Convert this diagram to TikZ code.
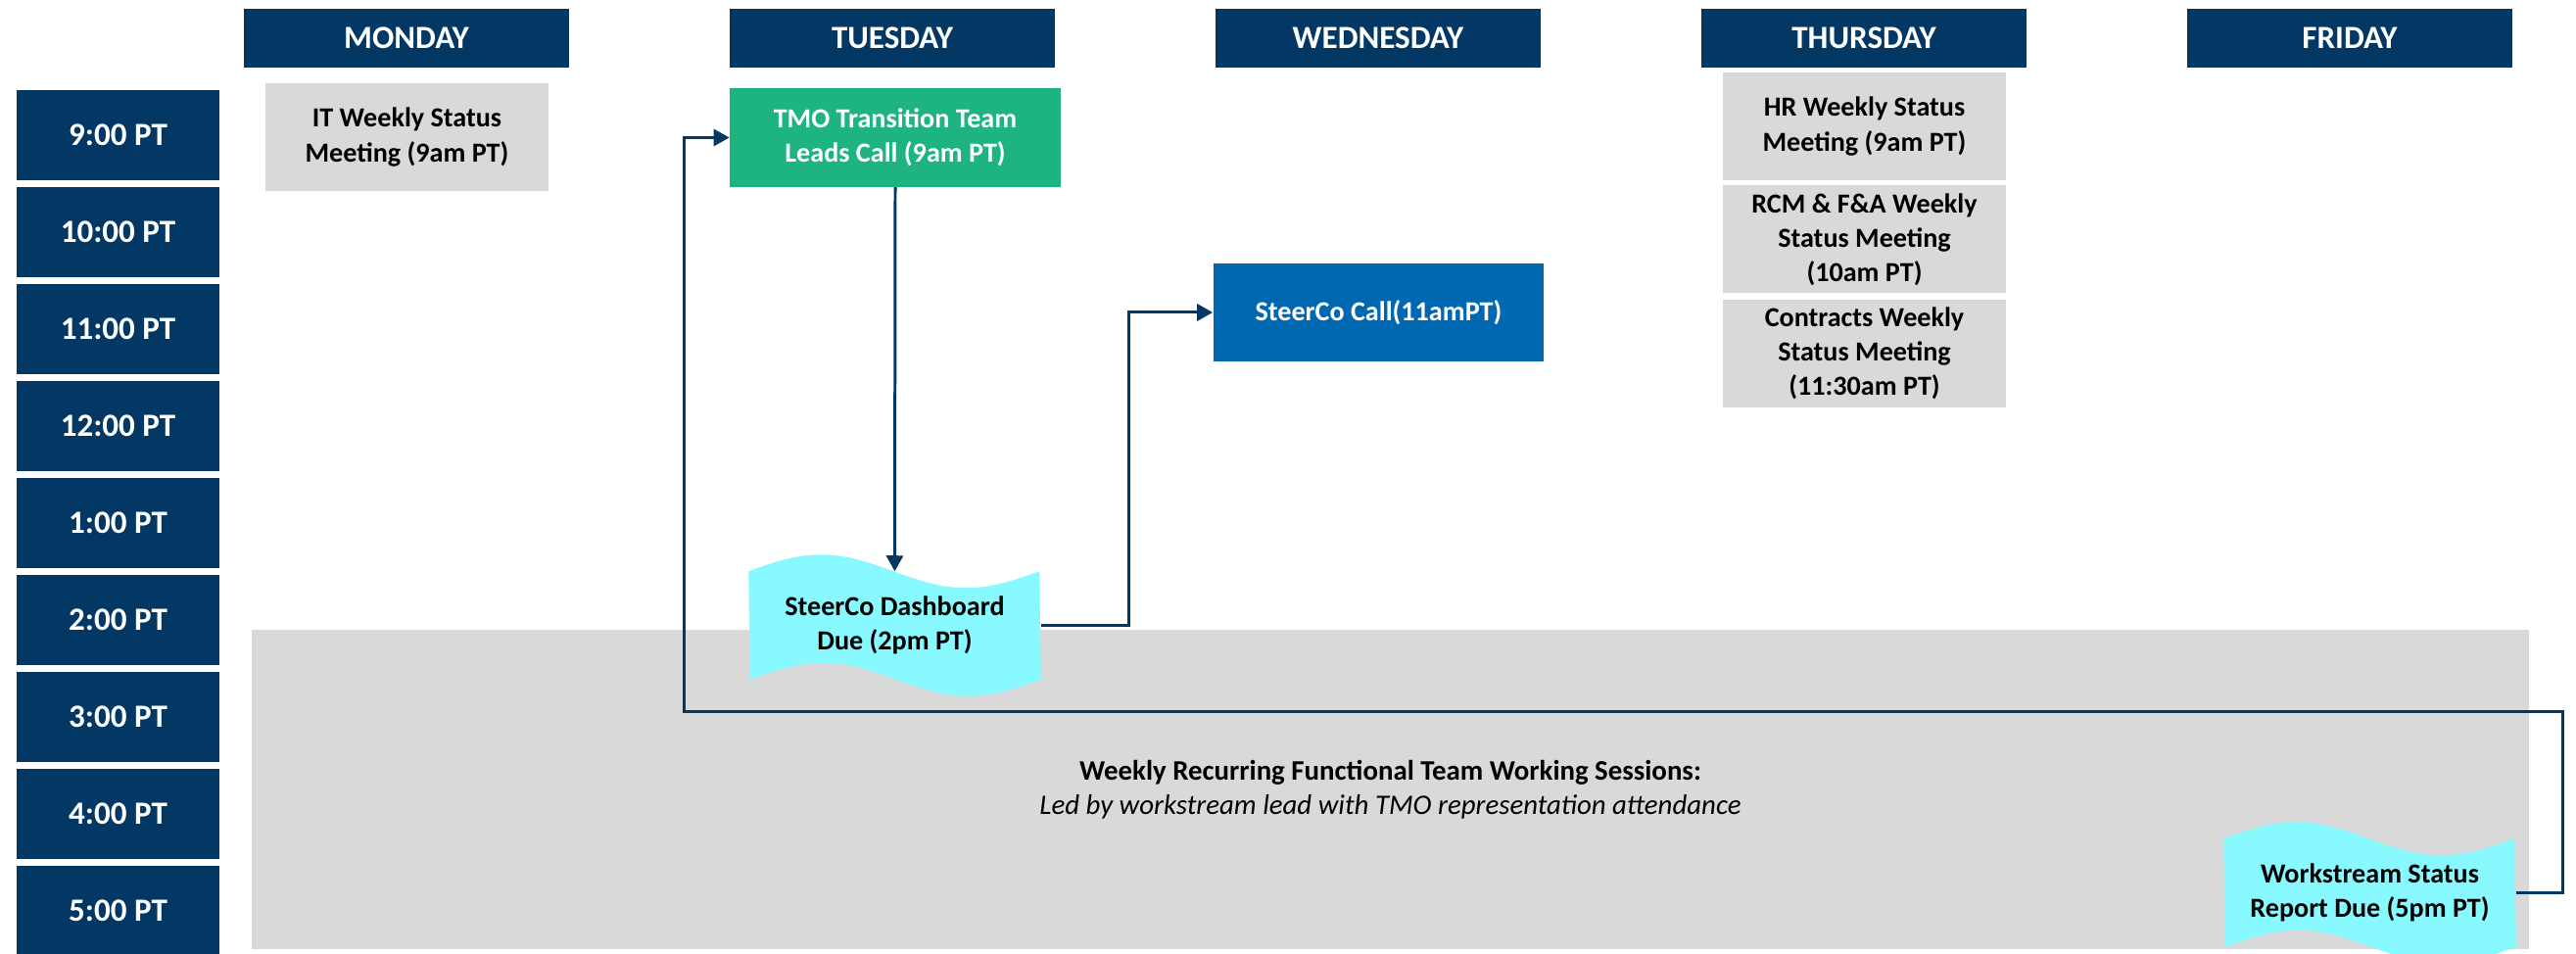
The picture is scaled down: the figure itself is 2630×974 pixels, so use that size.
\documentclass[tikz,border=0pt]{standalone}
\usepackage{fontspec}
\setmainfont{Carlito}
\usetikzlibrary{positioning,calc,arrows.meta}

\definecolor{navy}{RGB}{3,56,100}
\definecolor{tmogreen}{RGB}{30,180,128}
\definecolor{callblue}{RGB}{0,104,176}
\definecolor{tapecyan}{RGB}{136,249,255}
\definecolor{slotgray}{RGB}{217,217,217}

\pgfdeclarelayer{bg}
\pgfsetlayers{bg,main}

\tikzset{
  slot/.style={fill=navy, text=white, inner sep=0, font=\bfseries\fontsize{9.4}{11}\selectfont,
    minimum width=2.07cm, minimum height=0.92cm},
  dayhead/.style={slot, minimum width=3.31cm, minimum height=0.6cm},
  meeting/.style={fill=slotgray, inner sep=0, align=center, font=\bfseries\fontsize{8}{10}\selectfont,
    minimum width=2.89cm, minimum height=1.1cm},
  callbox/.style={meeting, text=white, minimum width=3.37cm, minimum height=1cm},
  duetape/.style={inner sep=0, align=center, font=\bfseries\fontsize{8}{10}\selectfont,
    minimum width=2.97cm, minimum height=1.09cm},
  link/.style={draw=navy, line width=0.85pt},
  arr/.style={link, -{Triangle[length=1.6mm,width=1.7mm]}}
}

% wavy "punched tape" fill behind a duetape node
\newcommand{\tapefill}[1]{%
  \fill[tapecyan] (#1.north west) sin ++(74,-17) cos ++(74,17) sin ++(74,17) cos ++(75,-17)
    -- (#1.south east) sin ++(-74,17) cos ++(-74,-17) sin ++(-74,-17) cos ++(-75,17) -- cycle;}

\begin{document}
\begin{tikzpicture}[x=0.01cm, y=-0.01cm]
    \useasboundingbox (0,0) rectangle (2630,974);

    % Time slots
    \foreach \t [count=\i from 0] in {9:00,10:00,11:00,12:00,1:00,2:00,3:00,4:00,5:00}
        \node[slot] (t\i) at (120.5,{138+99*\i}) {\t\ PT};

    % Day headers
    \foreach \d [count=\i from 0] in {MONDAY,TUESDAY,WEDNESDAY,THURSDAY,FRIDAY}
        \node[dayhead] (d\i) at ({415+496*\i},39) {\d};

    % Meetings
    \node[meeting] (it) at (415.5,140) {IT Weekly Status\\Meeting (9am PT)};
    \node[callbox, fill=tmogreen] (tmo) at (914,140.5) {TMO Transition Team\\Leads Call (9am PT)};
    \node[callbox, fill=callblue] (steer) at (1407.5,319) {SteerCo Call(11amPT)};
    \node[meeting] (hr) at (1903.5,129) {HR Weekly Status\\Meeting (9am PT)};
    \node[meeting, below=0.04cm of hr] (rcm) {RCM \& F\&A Weekly\\Status Meeting\\(10am PT)};
    \node[meeting, below=0.05cm of rcm] (contracts) {Contracts Weekly\\Status Meeting\\(11:30am PT)};

    % Deadlines
    \node[duetape] (dash) at (913.5,638.5) {SteerCo Dashboard\\Due (2pm PT)};
    \node[duetape] (work) at (2419.5,911.5) {Workstream Status\\Report Due (5pm PT)};

    % Working sessions band and tape shapes
    \begin{pgfonlayer}{bg}
        \node[fill=slotgray, inner sep=0, minimum width=23.23cm, minimum height=3.26cm, align=center,
            font=\fontsize{8.2}{10}\selectfont] (band) at (1419.5,806)
            {\textbf{Weekly Recurring Functional Team Working Sessions:}\\\textit{Led by workstream lead with TMO representation attendance}};
        \tapefill{dash}
        \tapefill{work}
    \end{pgfonlayer}

    % Connectors
    \coordinate (loopr) at (2616,727);
    \coordinate (loopl) at (698,727);
    \draw[arr] (tmo.south) -- (dash.north);
    \draw[arr] (dash.east) -- ++(90,0) |- (steer.west);
    \draw[arr] (work.east) -| (loopr) -- (loopl) |- (tmo.west);

\end{tikzpicture}
\end{document}
